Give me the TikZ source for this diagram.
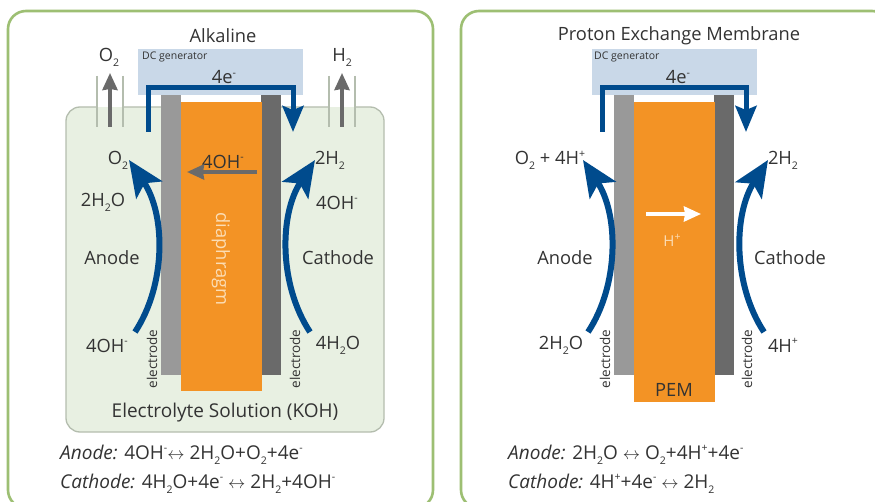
\documentclass[tikz,border=0pt]{standalone}
\usepackage{fontspec}
\setmainfont{Open Sans}
\usepackage{tikz}
\usetikzlibrary{arrows.meta,positioning,calc}
\definecolor{panelgreen}{HTML}{9DBF73}
\definecolor{tankfill}{HTML}{E8F0E2}
\definecolor{tankline}{HTML}{B4BDAE}
\definecolor{genblue}{HTML}{C9D8E8}
\definecolor{wireblue}{HTML}{004B8D}
\definecolor{elecleft}{HTML}{999999}
\definecolor{elecright}{HTML}{6A6A6A}
\definecolor{coreorange}{HTML}{F39325}
\definecolor{inkgray}{HTML}{333333}
\definecolor{softwhite}{HTML}{FBDDB5}
\newcommand{\ssub}[1]{\raisebox{-.5ex}{\fontsize{10.5}{10.5}\selectfont #1}}
\newcommand{\ssup}[1]{\raisebox{.75ex}{\fontsize{10.5}{10.5}\selectfont #1}}
\begin{document}
\begin{tikzpicture}[
    x=1pt, y=-1pt,
    panel/.style={draw=panelgreen, line width=2.6pt, rounded corners=18pt, fill=white},
    gen/.style={rectangle, fill=genblue, minimum width=165pt, minimum height=46pt, inner sep=0pt},
    elec/.style={rectangle, minimum width=20pt, minimum height=280pt, inner sep=0pt},
    label/.style={text=inkgray, font=\fontsize{18.3}{20}\selectfont, inner sep=0pt, yshift=-1.5pt},
    small/.style={text=inkgray, font=\fontsize{10.5}{11}\selectfont, inner sep=0pt},
    vert/.style={text=inkgray, font=\fontsize{13.5}{14}\selectfont, rotate=90, inner sep=0pt},
    wire/.style={draw=wireblue, line width=5pt, -{Stealth[length=26pt,width=21pt,inset=4pt]}},
    flow/.style={draw=wireblue, line width=6pt, -{Stealth[length=36pt,width=31pt,inset=8pt]}},
    gas/.style={draw=elecright, line width=3.5pt, -{Stealth[length=17pt,width=15pt,inset=1pt]}},
    tube/.style={draw=tankline, line width=1.3pt}
]
    \clip (0,0) rectangle (875,502);
    \fill[white] (0,0) rectangle (875,502);
    % panels
    \draw [panel] (8,11) rectangle (433,508);
    \draw [panel] (461,11) rectangle (890,508);

    % alkaline cell
    \draw [tankline, fill=tankfill, line width=1.3pt, rounded corners=14pt] (66,107) rectangle (384,432);
    \fill [white] (97,100) rectangle (123,108);
    \fill [tankfill] (97,107) rectangle (123,127);
    \fill [white] (329,100) rectangle (355,108);
    \fill [tankfill] (329,107) rectangle (355,127);
    \draw [tube] (97,76) -- (97,127) (123,76) -- (123,127);
    \draw [tube] (329,76) -- (329,127) (355,76) -- (355,127);
    \node [gen] (gena) at (220.5,72) {};
    \fill [white] (181,95) rectangle (261,103);
    \node [elec, fill=elecleft] (ela) at (171,235) {};
    \node [elec, fill=elecright] (era) at (271,235) {};
    \node [rectangle, fill=coreorange, minimum width=81pt, minimum height=289pt, inner sep=0pt] (dia) at (221.5,246.5) {};

    \node [label] (alk) at (223,34) {Alkaline};
    \node [small, anchor=west] (dca) at (142,57) {DC generator};
    \node [label] (ea) at (224,76) {4e\ssup{-}};
    \node [label] (gaso) at (109,56) {O\ssub{2}};
    \node [label] (gash) at (342,56) {H\ssub{2}};
    \node [label] (oa) at (118,159) {O\ssub{2}};
    \node [label] (hc) at (330,159) {2H\ssub{2}};
    \node [label] (oh) at (223,160) {4OH\ssup{-}};
    \node [label] (wa) at (103,201) {2H\ssub{2}O};
    \node [label] (ohc) at (337,201) {4OH\ssup{-}};
    \node [label] (ana) at (112,256) {Anode};
    \node [label] (cata) at (338,256) {Cathode};
    \node [label] (oha) at (107,344) {4OH\ssup{-}};
    \node [label] (wc) at (338,344) {4H\ssub{2}O};
    \node [vert] (ea1) at (152,359) {electrode};
    \node [vert] (ea2) at (295,359) {electrode};
    \node [text=softwhite, font=\fontsize{18.3}{20}\selectfont, rotate=-90, inner sep=0pt] (diat) at (221,259) {diaphragm};
    \node [label, font=\fontsize{19}{20}\selectfont] (koh) at (225,411) {Electrolyte Solution (KOH)};
    \node [label, anchor=west, font=\fontsize{19}{20}\selectfont] (eqaa) at (60,453) {\textit{Anode:} 4OH\ssup{-}$\leftrightarrow$ 2H\ssub{2}O+O\ssub{2}+4e\ssup{-}};
    \node [label, anchor=west, font=\fontsize{19}{20}\selectfont] (eqca) at (60,482) {\textit{Cathode:} 4H\ssub{2}O+4e\ssup{-} $\leftrightarrow$ 2H\ssub{2}+4OH\ssup{-}};

    \coordinate (wsa) at (148,132);
    \coordinate (wea) at (293,132);
    \draw [wire] (wsa) -- (148,88) -- (293,88) -- (wea);
    \coordinate (ga1) at (110,127);
    \coordinate (ga2) at (110,73);
    \coordinate (gc1) at (342,127);
    \coordinate (gc2) at (342,73);
    \draw [gas] (ga1) -- (ga2);
    \draw [gas] (gc1) -- (gc2);
    \coordinate (oh1) at (257,172);
    \coordinate (oh2) at (187,172);
    \draw [gas] (oh1) -- (oh2);
    \coordinate (fa1) at (135,332);
    \coordinate (fa2) at (129,160);
    \coordinate (fc1) at (310,332);
    \coordinate (fc2) at (315,160);
    \draw [flow] (fa1) .. controls (166,285) and (166,215) .. (fa2);
    \draw [flow] (fc1) .. controls (279,285) and (279,215) .. (fc2);

    % pem cell
    \node [gen] (genb) at (674.5,72) {};
    \node [elec, fill=elecleft] (elb) at (624,235) {};
    \node [elec, fill=elecright] (erb) at (724,235) {};
    \node [rectangle, fill=coreorange, minimum width=81pt, minimum height=300pt, inner sep=0pt] (pem) at (674,252) {};

    \node [label] (pro) at (679,34) {Proton Exchange Membrane};
    \node [small, anchor=west] (dcb) at (594,57) {DC generator};
    \node [label] (eb) at (678,76) {4e\ssup{-}};
    \node [label] (ob) at (550,159) {O\ssub{2} + 4H\ssup{+}};
    \node [label] (hb) at (783,159) {2H\ssub{2}};
    \node [text=softwhite, font=\fontsize{15}{18}\selectfont, inner sep=0pt] (hp) at (672,240) {H\ssup{+}};
    \node [label] (anb) at (565,256) {Anode};
    \node [label] (catb) at (790,256) {Cathode};
    \node [label] (wb) at (561,344) {2H\ssub{2}O};
    \node [label] (hc4) at (783,344) {4H\ssup{+}};
    \node [label] (pemt) at (674,388) {PEM};
    \node [vert] (eb1) at (605,359) {electrode};
    \node [vert] (eb2) at (747,359) {electrode};
    \node [label, anchor=west, font=\fontsize{19}{20}\selectfont] (eqab) at (508,453) {\textit{Anode:} 2H\ssub{2}O $\leftrightarrow$ O\ssub{2}+4H\ssup{+}+4e\ssup{-}};
    \node [label, anchor=west, font=\fontsize{19}{20}\selectfont] (eqcb) at (508,482) {\textit{Cathode:} 4H\ssup{+}+4e\ssup{-} $\leftrightarrow$ 2H\ssub{2}};

    \coordinate (wsb) at (602,132);
    \coordinate (web) at (746,132);
    \draw [wire] (wsb) -- (602,88) -- (746,88) -- (web);
    \coordinate (hp1) at (646,214);
    \coordinate (hp2) at (701,214);
    \draw [white, line width=3.5pt, -{Stealth[length=17pt,width=15pt,inset=1pt]}] (hp1) -- (hp2);
    \coordinate (fb1) at (588,332);
    \coordinate (fb2) at (583,160);
    \coordinate (fd1) at (764,332);
    \coordinate (fd2) at (768,160);
    \draw [flow] (fb1) .. controls (619,285) and (619,215) .. (fb2);
    \draw [flow] (fd1) .. controls (733,285) and (733,215) .. (fd2);
\end{tikzpicture}
\end{document}
